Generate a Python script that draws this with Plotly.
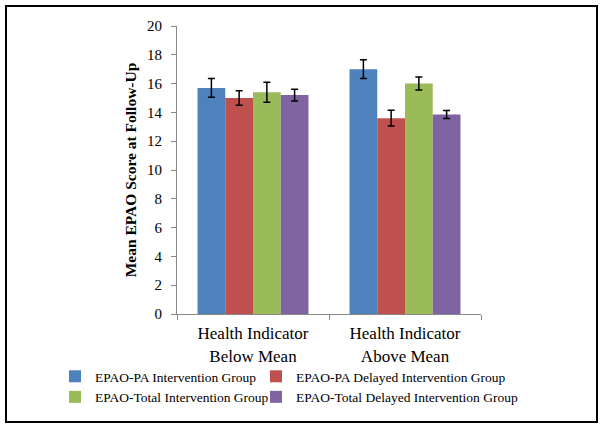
import plotly.graph_objects as go

categories = ["Health Indicator<br>Below Mean", "Health Indicator<br>Above Mean"]
series_names = [
    "EPAO-PA Intervention Group",
    "EPAO-PA Delayed Intervention Group",
    "EPAO-Total Intervention Group",
    "EPAO-Total Delayed Intervention Group",
]
pa_int = [15.7, 17.0]
pa_int_err = [0.65, 0.65]
pa_delay = [15.0, 13.6]
pa_delay_err = [0.5, 0.55]
tot_int = [15.4, 16.0]
tot_int_err = [0.7, 0.45]
tot_delay = [15.2, 13.85]
tot_delay_err = [0.4, 0.28]

colors = ["#4F81BD", "#C0504D", "#9BBB59", "#8064A2"]
values = [pa_int, pa_delay, tot_int, tot_delay]
errors = [pa_int_err, pa_delay_err, tot_int_err, tot_delay_err]
# legend is laid out in two columns: PA/Total intervention left, delayed right
legend_ids = ["legend", "legend2", "legend", "legend2"]

W, H = 604, 429
L, R, T, B = 177, 123, 26, 115
pw, ph = W - L - R, H - T - B

font = "Liberation Serif, Times New Roman, serif"

fig = go.Figure()
for name, vals, errs, col, lg in zip(series_names, values, errors, colors, legend_ids):
    fig.add_trace(go.Bar(
        x=categories,
        y=vals,
        name=name,
        legend=lg,
        marker=dict(color=col, line=dict(width=0)),
        error_y=dict(type="data", array=errs, color="black", thickness=1.5, width=3.5),
    ))

# outer frame round the whole picture
fig.add_shape(
    type="rect", xref="paper", yref="paper",
    x0=(6 - L) / pw, x1=(597 - L) / pw,
    y0=(H - B - 422) / ph, y1=(H - B - 6) / ph,
    line=dict(color="black", width=2),
)

legend_common = dict(
    orientation="v",
    xanchor="left",
    y=(H - B - 361) / ph, yanchor="top",
    font=dict(size=13.5, family=font),
    itemwidth=30,
    tracegroupgap=0,
    bgcolor="rgba(0,0,0,0)",
)

fig.update_layout(
    width=W, height=H,
    margin=dict(l=L, r=R, t=T, b=B),
    paper_bgcolor="white",
    plot_bgcolor="white",
    font=dict(family=font, color="black"),
    barmode="group",
    bargap=0.27,
    bargroupgap=0,
    showlegend=True,
    legend=dict(x=(55 - L) / pw, **legend_common),
    legend2=dict(x=(256 - L) / pw, **legend_common),
    xaxis=dict(
        showline=True, linecolor="#888888", linewidth=1,
        ticks="outside", ticklen=5, tickcolor="#888888",
        tickson="boundaries",
        ticklabelstandoff=4,
        tickfont=dict(size=17, family=font),
        showgrid=False,
    ),
    yaxis=dict(
        range=[0, 20], dtick=2,
        showline=True, linecolor="#888888", linewidth=1,
        ticks="outside", ticklen=5, tickcolor="#888888",
        ticklabelstandoff=6,
        tickfont=dict(size=15, family=font),
        showgrid=False, zeroline=False,
        title=dict(text="<b>Mean EPAO Score at Follow-Up</b>",
                   font=dict(size=15.5, family=font), standoff=6),
    ),
)

fig.write_html("out.html", config={"displayModeBar": False},
               post_script="document.body.style.margin='0';")
